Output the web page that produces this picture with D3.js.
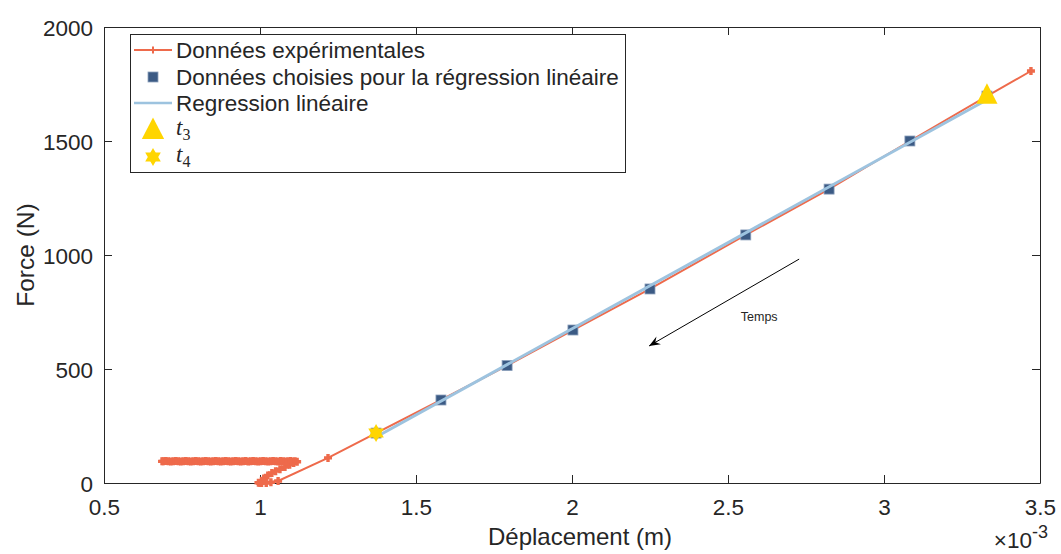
<!DOCTYPE html>
<html><head><meta charset="utf-8">
<script src="https://cdn.jsdelivr.net/npm/d3@7"></script>
<style>
body{margin:0;background:#fff;}
text{font-family:"Liberation Sans",Arial,Helvetica,sans-serif;fill:#262626;}
</style></head>
<body><svg id="c" width="1061" height="554"></svg>
<script>
// Experimental data (displacement in 1e-3 m, force in N), in time order
const expX = [3.471,3.330,3.083,2.824,2.557,2.250,2.003,1.792,1.580,1.372,1.218,1.058,1.035,1.020,1.005,0.995,1.000,1.012,1.025,1.038,1.050,1.064,1.080,1.095,1.108,1.119,
  1.112,1.105,1.098,1.090,1.082,1.074,1.066,1.058,1.050,1.042,1.034,1.026,1.018,1.010,1.002,0.994,0.986,0.978,0.970,0.962,0.954,0.946,0.938,0.930,0.922,0.914,0.906,0.898,0.890,0.882,0.874,0.866,0.858,0.850,0.842,0.834,0.826,0.818,0.810,0.802,0.794,0.786,0.778,0.770,0.762,0.754,0.746,0.738,0.730,0.722,0.714,0.706,0.698,0.690,0.686];
const expY = [1807,1697,1500,1289,1088,851,671,515,364,219,110,9,3,0,0,1,0,20,33,44,52,60,70,80,88,93,
  95,94,96,95,94,95,96,94,95,96,95,94,95,96,95,94,95,96,95,94,96,95,94,95,96,95,94,95,96,95,94,95,96,95,94,95,96,95,94,95,96,95,94,95,96,95,94,95,96,95,94,95,96,95,95];
// Points chosen for the linear regression
const selX = [1.372,1.580,1.792,2.003,2.250,2.557,2.824,3.083,3.330];
const selY = [219,364,515,671,851,1088,1289,1500,1697];
// Linear regression line endpoints
const regX = [1.372,3.330];
const regY = [202,1681];
// t3 and t4 markers
const t3 = [3.330,1697];
const t4 = [1.372,219];
// Axis ticks
const xTicks = [0.5,1,1.5,2,2.5,3,3.5];
const xTickLabels = ["0.5","1","1.5","2","2.5","3","3.5"];
const yTicks = [0,500,1000,1500,2000];
// Annotation arrow (data coords) and label
const arrowFrom = [2.728,982];
const arrowTo = [2.247,601];
const arrowLabel = {x:2.60, y:728, text:"Temps"};
const legendLabels = ["Données expérimentales","Données choisies pour la régression linéaire","Regression linéaire"];

const svg = d3.select("#c");
const L=104,R=1040,T=27,B=483;
const x = d3.scaleLinear().domain([0.5,3.5]).range([L,R]);
const y = d3.scaleLinear().domain([0,2000]).range([B,T]);
const axisCol="#262626";
const red="#EE6A4B", sqFill="#3B5A84", sqEdge="#8CA0BC", blue="#9DC3DF", gold="#FFD500";

// Axes box and ticks
const gx = svg.append("g").attr("transform",`translate(0,${B})`)
  .call(d3.axisBottom(x).tickValues(xTicks).tickFormat((d,i)=>xTickLabels[i]).tickSizeInner(-8).tickSizeOuter(0).tickPadding(16));
const gxt = svg.append("g").attr("transform",`translate(0,${T})`)
  .call(d3.axisTop(x).tickValues(xTicks).tickFormat("").tickSizeInner(-8).tickSizeOuter(0));
const gy = svg.append("g").attr("transform",`translate(${L},0)`)
  .call(d3.axisLeft(y).tickValues(yTicks).tickFormat(d3.format("d")).tickSizeInner(-8).tickSizeOuter(0).tickPadding(11));
const gyr = svg.append("g").attr("transform",`translate(${R},0)`)
  .call(d3.axisRight(y).tickValues(yTicks).tickFormat("").tickSizeInner(-8).tickSizeOuter(0));
[gx,gxt,gy,gyr].forEach(g=>{
  g.selectAll("path").attr("stroke",axisCol).attr("stroke-width",1);
  g.selectAll("line").attr("stroke",axisCol).attr("stroke-width",1);
  g.selectAll("text").attr("font-size",22.5).attr("fill",axisCol).style("font-family","Liberation Sans, Arial, sans-serif");
});
gx.selectAll("text").attr("dy","0.71em");
gy.selectAll("text").attr("dy","0.36em");
// Exponent label
const ex = svg.append("text").attr("x",1048).attr("y",548).attr("text-anchor","end").attr("font-size",22.5);
ex.append("tspan").text("×10");
ex.append("tspan").attr("dy",-10).attr("font-size",18).text("-3");

// Axis labels
svg.append("text").attr("x",(L+R)/2+8).attr("y",545).attr("text-anchor","middle").attr("font-size",24).text("Déplacement (m)");
svg.append("text").attr("transform",`translate(34,${(T+B)/2}) rotate(-90)`).attr("text-anchor","middle").attr("font-size",24.5).text("Force (N)");

const plot = svg.append("g");
// Experimental line
const line = d3.line().x(d=>x(d[0])).y(d=>y(d[1]));
const expPts = expX.map((v,i)=>[v,expY[i]]);
plot.append("path").datum(expPts).attr("d",line).attr("fill","none").attr("stroke",red).attr("stroke-width",2);
function plus(g,cx,cy,s,w){
  g.append("path").attr("d",`M${cx-s},${cy}H${cx+s}M${cx},${cy-s}V${cy+s}`).attr("stroke",red).attr("stroke-width",w||2);
}
expPts.forEach(d=>plus(plot,x(d[0]),y(d[1]),4,3.4));
// Selected squares
const sq=10;
plot.selectAll("rect.sel").data(selX.map((v,i)=>[v,selY[i]])).enter().append("rect")
  .attr("x",d=>x(d[0])-sq/2).attr("y",d=>y(d[1])-sq/2).attr("width",sq).attr("height",sq)
  .attr("fill",sqFill).attr("stroke",sqEdge).attr("stroke-width",0.8);
// Regression line
plot.append("path").datum(regX.map((v,i)=>[v,regY[i]])).attr("d",line).attr("fill","none").attr("stroke",blue).attr("stroke-width",3);
// Markers t3, t4
function triangle(g,cx,cy,s){
  g.append("path").attr("d",`M${cx},${cy-s*0.75}L${cx+s*0.62},${cy+s*0.45}L${cx-s*0.62},${cy+s*0.45}Z`).attr("fill",gold);
}
function hexagram(g,cx,cy,r){
  const p1=[],p2=[];
  for(let k=0;k<3;k++){
    const a1=-Math.PI/2+k*2*Math.PI/3, a2=Math.PI/2+k*2*Math.PI/3;
    p1.push([cx+r*Math.cos(a1),cy+r*Math.sin(a1)]);
    p2.push([cx+r*Math.cos(a2),cy+r*Math.sin(a2)]);
  }
  g.append("path").attr("d","M"+p1.join("L")+"Z").attr("fill",gold);
  g.append("path").attr("d","M"+p2.join("L")+"Z").attr("fill",gold);
}
triangle(plot,x(t3[0]),y(t3[1]),17);
hexagram(plot,x(t4[0]),y(t4[1]),9);

// Arrow annotation
const ax1=x(arrowFrom[0]), ay1=y(arrowFrom[1]), ax2=x(arrowTo[0]), ay2=y(arrowTo[1]);
plot.append("line").attr("x1",ax1).attr("y1",ay1).attr("x2",ax2).attr("y2",ay2).attr("stroke","#000").attr("stroke-width",1);
{
  const ang=Math.atan2(ay2-ay1,ax2-ax1), len=12, w=0.38;
  const b1=[ax2-len*Math.cos(ang-w),ay2-len*Math.sin(ang-w)];
  const b2=[ax2-len*Math.cos(ang+w),ay2-len*Math.sin(ang+w)];
  const bm=[ax2-len*0.6*Math.cos(ang),ay2-len*0.6*Math.sin(ang)];
  plot.append("path").attr("d",`M${ax2},${ay2}L${b1}L${bm}L${b2}Z`).attr("fill","#000");
}
svg.append("text").attr("x",x(arrowLabel.x)).attr("y",y(arrowLabel.y)+4).attr("text-anchor","middle").attr("font-size",12.5).attr("fill","#000").text(arrowLabel.text);

// Legend
const lg = svg.append("g");
lg.append("rect").attr("x",130.5).attr("y",34.5).attr("width",495).attr("height",138).attr("fill","#fff").attr("stroke",axisCol).attr("stroke-width",1);
const rowY=[50,77,103,130,157];
const lx0=134, lx1=172, tx=176;
lg.append("line").attr("x1",lx0).attr("x2",lx1).attr("y1",rowY[0]).attr("y2",rowY[0]).attr("stroke",red).attr("stroke-width",2);
plus(lg,(lx0+lx1)/2,rowY[0],3.5);
lg.append("rect").attr("x",(lx0+lx1)/2-5).attr("y",rowY[1]-5).attr("width",10).attr("height",10).attr("fill",sqFill).attr("stroke",sqEdge).attr("stroke-width",0.8);
lg.append("line").attr("x1",lx0).attr("x2",lx1).attr("y1",rowY[2]).attr("y2",rowY[2]).attr("stroke",blue).attr("stroke-width",2.5);
triangle(lg,(lx0+lx1)/2,rowY[3]+1,18);
hexagram(lg,(lx0+lx1)/2,rowY[4],9);
legendLabels.forEach((t,i)=>{
  lg.append("text").attr("x",tx).attr("y",rowY[i]+8).attr("font-size",22.5).attr("fill","#000").text(t);
});
[["3",3],["4",4]].forEach(([s,i])=>{
  const tt=lg.append("text").attr("x",tx).attr("y",rowY[i]+5).attr("fill","#000").style("font-family","Liberation Serif, DejaVu Serif, serif");
  tt.append("tspan").attr("font-size",23).attr("font-style","italic").text("t");
  tt.append("tspan").attr("font-size",16).attr("dy",5).text(s);
});
</script></body></html>
